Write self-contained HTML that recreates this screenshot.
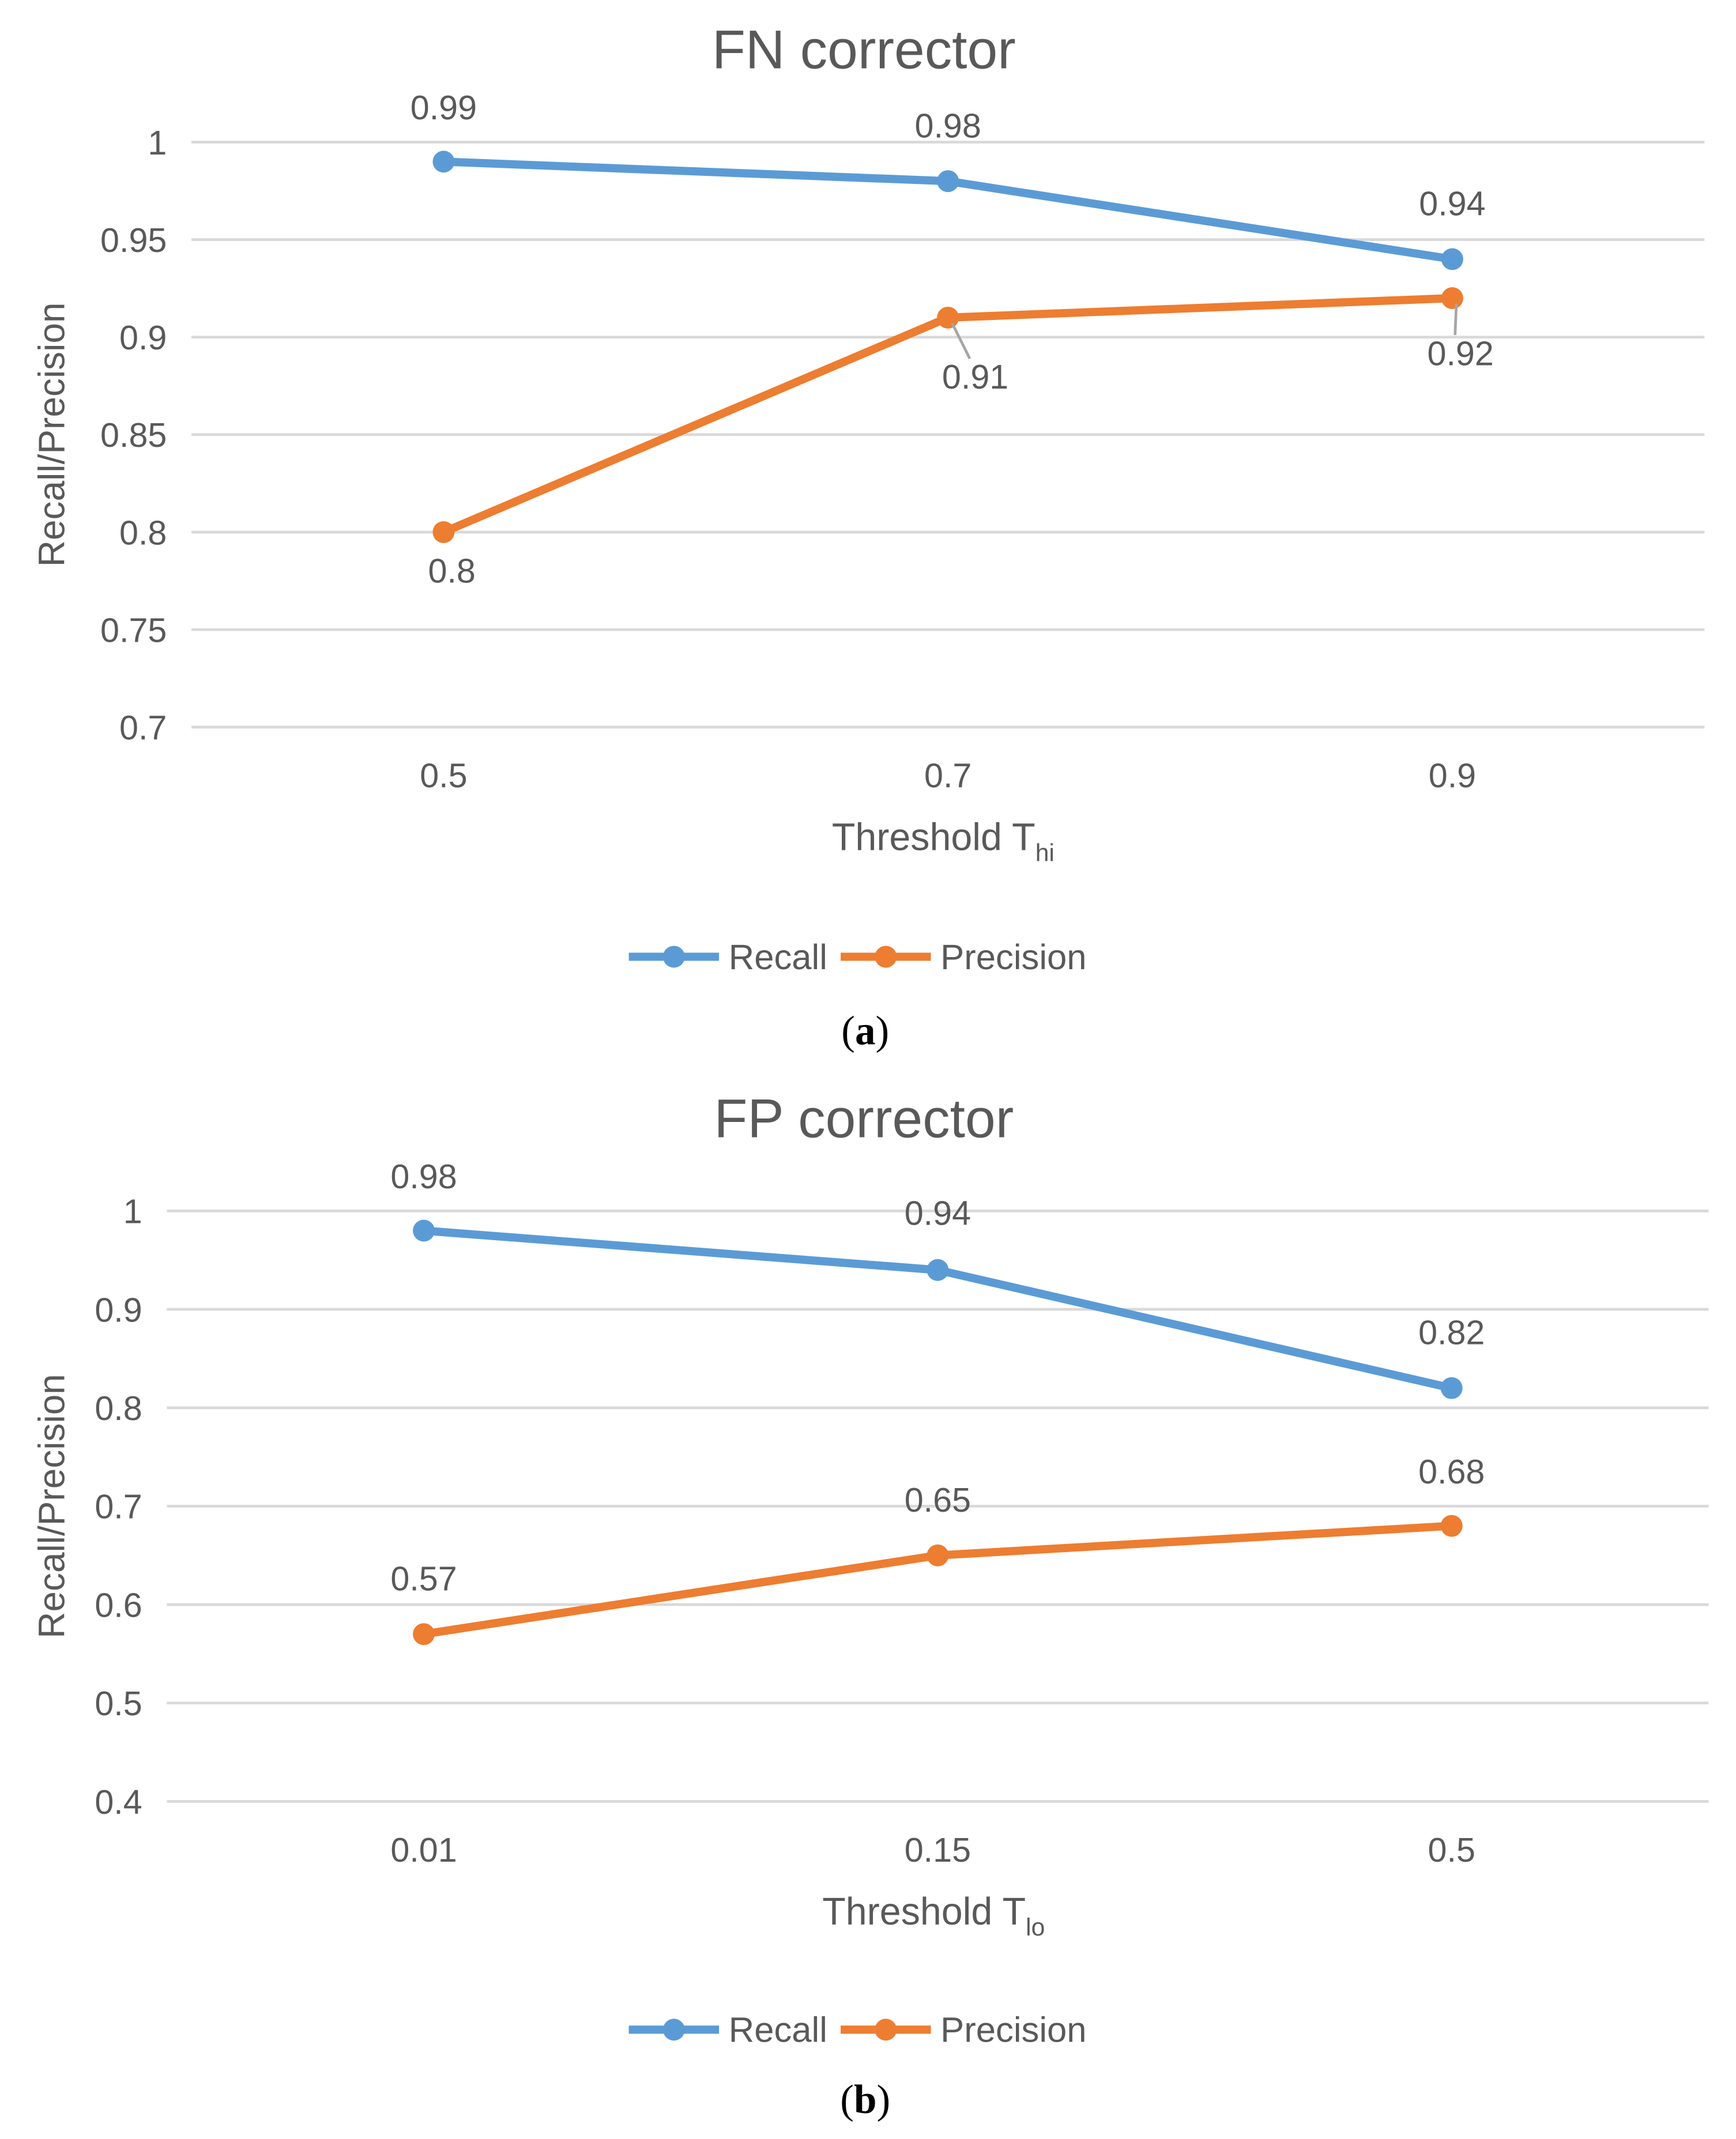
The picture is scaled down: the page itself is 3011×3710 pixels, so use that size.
<!DOCTYPE html>
<html><head><meta charset="utf-8"><style>
html,body{margin:0;padding:0;background:#fff}
svg{display:block}
text{font-family:"Liberation Sans",sans-serif;fill:#595959}
</style></head><body>
<svg id="fig" width="3011" height="3710" viewBox="0 0 1270 1565" xmlns="http://www.w3.org/2000/svg"></svg>
<script>
// Chart (a) data
const catsA = ["0.5","0.7","0.9"];
const recallA = [0.99,0.98,0.94];
const precA = [0.8,0.91,0.92];
const ticksA = [0.7,0.75,0.8,0.85,0.9,0.95,1];
const tickLabelsA = ["0.7","0.75","0.8","0.85","0.9","0.95","1"];
// Chart (b) data
const catsB = ["0.01","0.15","0.5"];
const recallB = [0.98,0.94,0.82];
const precB = [0.57,0.65,0.68];
const ticksB = [0.4,0.5,0.6,0.7,0.8,0.9,1];
const tickLabelsB = ["0.4","0.5","0.6","0.7","0.8","0.9","1"];

const NS="http://www.w3.org/2000/svg";
const svg=document.getElementById('fig');
function el(tag,attrs,parent,txt){const e=document.createElementNS(NS,tag);for(const k in attrs)e.setAttribute(k,attrs[k]);if(txt!==undefined)e.textContent=txt;(parent||svg).appendChild(e);return e;}
const BLUE="#5B9BD5",ORANGE="#ED7D31";

function chart(o){
  const g=el('g',{});
  
  
  const ymin=o.ticks[0],ymax=o.ticks[o.ticks.length-1];
  const y=v=>o.yBot-(v-ymin)/(ymax-ymin)*(o.yBot-o.yTop);
  const bw=(o.x1-o.x0)/o.cats.length;
  const x=i=>o.x0+bw*(i+0.5);
  const t=el('text',{x:632,y:o.titleY,'font-size':40,'text-anchor':'middle'},g,o.title);
  
  
  o.ticks.forEach((v,i)=>{
    const l=el('line',{x1:o.x0,x2:o.x1,y1:y(v),y2:y(v),stroke:'#d9d9d9','stroke-width':2},g);
    
    
    const tl=el('text',{x:o.x0-18,y:y(v)+9,'font-size':25,'text-anchor':'end'},g,o.tickLabels[i]);
    
    
  });
  o.cats.forEach((c,i)=>{
    const tl=el('text',{x:x(i),y:o.yBot+44,'font-size':25,'text-anchor':'middle'},g,c);
    
    
  });
  const yt=el('text',{transform:`translate(47,${(o.yTop+o.yBot)/2}) rotate(-90)`,'font-size':27,'text-anchor':'middle'},g,'Recall/Precision');
  
  
  const xt=el('text',{x:o.xtX,y:o.yBot+90,'font-size':28,'text-anchor':'middle'},g);
  
  
  el('tspan',{},xt,'Threshold T');
  el('tspan',{'font-size':18,dy:8},xt,o.sub);
  [[o.rec,BLUE,'recall',o.recOff],[o.prec,ORANGE,'precision',o.precOff]].forEach(([d,c,n,off])=>{
    const p=el('polyline',{points:d.map((v,i)=>x(i)+','+y(v)).join(' '),fill:'none',stroke:c,'stroke-width':6,'stroke-linejoin':'round'},g);
    
    
    d.forEach((v,i)=>{
      const m=el('circle',{cx:x(i),cy:y(v),r:8,fill:c},g);
      
      
      const [dx,dy,leader]=off[i];
      if(leader){el('line',{x1:x(i)+3,y1:y(v)+4,x2:x(i)+dx-4,y2:y(v)+dy-22,stroke:'#a6a6a6','stroke-width':2},g);}
      const lb=el('text',{x:x(i)+dx,y:y(v)+dy,'font-size':25,'text-anchor':'middle'},g,String(v));
      
      
    });
  });
  const lg=el('g',{},g);
  
  
  [[BLUE,'Recall',460],[ORANGE,'Precision',615]].forEach(([c,lab,lx])=>{
    const e=el('g',{},lg);
    
    
    el('line',{x1:lx,x2:lx+66,y1:o.legY,y2:o.legY,stroke:c,'stroke-width':6},e);
    el('circle',{cx:lx+33,cy:o.legY,r:8,fill:c},e);
    el('text',{x:lx+73,y:o.legY+9,'font-size':26},e,lab);
  });
  const cap=el('text',{x:633,y:o.capY,'font-size':30,'text-anchor':'middle',style:'font-family:"Liberation Serif",serif;fill:#000'},g);
  
  
  el('tspan',{},cap,'(');
  el('tspan',{'font-weight':'bold'},cap,o.cap);
  el('tspan',{},cap,')');
}
chart({name:'fn-corrector-chart',title:'FN corrector',titleY:50,cats:catsA,rec:recallA,prec:precA,ticks:ticksA,tickLabels:tickLabelsA,
  x0:140,x1:1247,yTop:104,yBot:532,sub:'hi',xtX:690,legY:700,capY:764,cap:'a',
  recOff:[[0,-31],[0,-32],[0,-32]],precOff:[[6,37],[20,52,true],[6,49,true]]});
chart({name:'fp-corrector-chart',title:'FP corrector',titleY:832,cats:catsB,rec:recallB,prec:precB,ticks:ticksB,tickLabels:tickLabelsB,
  x0:122,x1:1250,yTop:886,yBot:1318,sub:'lo',xtX:683,legY:1485,capY:1546,cap:'b',
  recOff:[[0,-31],[0,-33],[0,-32]],precOff:[[0,-32],[0,-32],[0,-31]]});
</script>
</body></html>
